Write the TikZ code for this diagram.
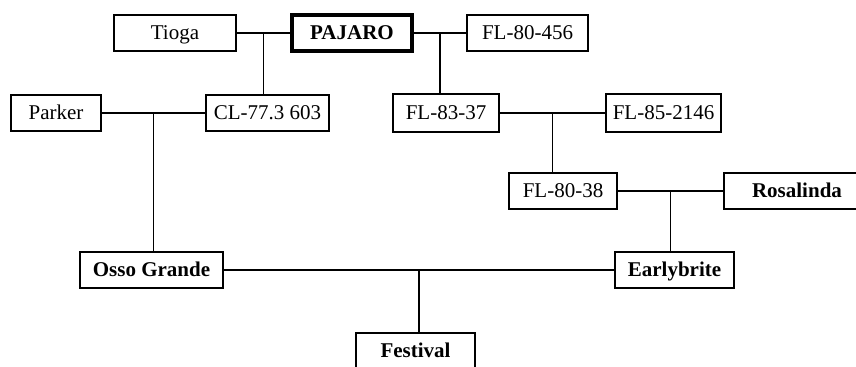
\documentclass[tikz,border=0pt]{standalone}
\usepackage{fontspec}
\setmainfont{Liberation Serif}
\usetikzlibrary{calc}

\tikzset{
  plant/.style={draw, line width=0.6pt, inner sep=0pt, minimum height=18pt,
    text height=8pt, text depth=1pt, font=\fontsize{10.5}{12}\selectfont},
  keyplant/.style={plant, font=\fontsize{10.5}{12}\selectfont\bfseries},
  link/.style={line width=0.8pt}
}

\begin{document}
\begin{tikzpicture}[x=0.5pt,y=-0.5pt]

\useasboundingbox (0,0) rectangle (856,367);

% first row
\node[plant, minimum width=61pt] (tioga) at (175,33) {Tioga};
\node[keyplant, line width=2pt, minimum width=60pt] (pajaro) at (352,33) {PAJARO};
\node[plant, minimum width=60.5pt] (fl80456) at (527.5,33) {FL-80-456};

% second row
\node[plant, minimum width=45pt] (parker) at (56,113) {Parker};
\node[plant, minimum width=61.5pt] (cl77) at (267.5,113) {CL-77.3 603};
\node[plant, minimum width=53pt, minimum height=19pt] (fl8337) at (446,113) {FL-83-37};
\node[plant, minimum width=57.5pt, minimum height=19pt] (fl852146) at (663.5,113) {FL-85-2146};

% third row
\node[plant, minimum width=54pt] (fl8038) at (563,191) {FL-80-38};
\node[keyplant, minimum width=73pt] (rosalinda) at (797,191) {Rosalinda};

% fourth row
\node[keyplant, minimum width=71.5pt] (osso) at (151.5,270) {Osso Grande};
\node[keyplant, minimum width=59.5pt] (early) at (674.5,270) {Earlybrite};

% bottom
\node[keyplant, minimum width=59.5pt] (festival) at (415.5,351) {Festival};

% Tioga x PAJARO
\draw[link] (tioga) -- (pajaro);
\coordinate (jcl) at ($(tioga.east)!0.5!(pajaro.west)$);
\draw[link] (jcl) -- (jcl |- cl77.north);

% PAJARO x FL-80-456
\draw[link] (pajaro) -- (fl80456);
\coordinate (jfl) at ($(pajaro.east)!0.5!(fl80456.west)$);
\draw[link] (jfl) -- (jfl |- fl8337.north);

% Parker x CL-77.3 603
\draw[link] (parker) -- (cl77);
\coordinate (josso) at ($(parker.east)!0.5!(cl77.west)$);
\draw[link] (josso) -- (josso |- osso.north);

% FL-83-37 x FL-85-2146
\draw[link] (fl8337) -- (fl852146);
\coordinate (j38) at ($(fl8337.east)!0.5!(fl852146.west)$);
\draw[link] (j38) -- (j38 |- fl8038.north);

% FL-80-38 x Rosalinda
\draw[link] (fl8038) -- (rosalinda);
\coordinate (jearly) at ($(fl8038.east)!0.5!(rosalinda.west)$);
\draw[link] (jearly) -- (jearly |- early.north);

% Osso Grande x Earlybrite
\draw[link] (osso) -- (early);
\coordinate (jfest) at ($(osso.east)!0.5!(early.west)$);
\draw[link] (jfest) -- (jfest |- festival.north);

\end{tikzpicture}
\end{document}
